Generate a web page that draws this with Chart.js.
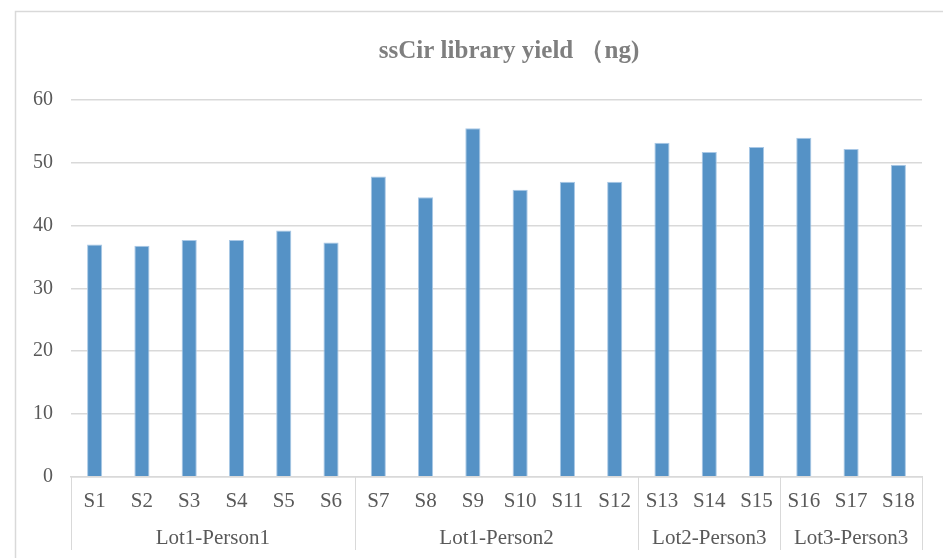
<!DOCTYPE html>
<html>
<head>
<meta charset="utf-8">
<script src="https://cdn.jsdelivr.net/npm/chart.js@4"></script>
<style>
  html, body { margin: 0; padding: 0; background: #fff; }
  #wrap { width: 943px; height: 558px; }
</style>
</head>
<body>
<div id="wrap"><canvas id="yield-chart"></canvas></div>
<script>
const samples = ["S1", "S2", "S3", "S4", "S5", "S6", "S7", "S8", "S9", "S10", "S11", "S12", "S13", "S14", "S15", "S16", "S17", "S18"];
const yieldNg = [37.0, 36.8, 37.7, 37.7, 39.2, 37.3, 47.8, 44.5, 55.5, 45.7, 47.0, 47.0, 53.2, 51.7, 52.5, 54.0, 52.2, 49.7];
const groupNames = ["Lot1-Person1", "Lot1-Person2", "Lot2-Person3", "Lot3-Person3"];
const groupSizes = [6, 6, 3, 3];
const titleText = "ssCir library yield （ng)";

const serif = "'Liberation Serif', 'Times New Roman', serif";
const lineGray = "#d9d9d9";
const textGray = "#595959";

// frame, title, group separators and group labels
const decorations = {
  id: "decorations",
  beforeDraw(chart) {
    const ctx = chart.ctx;
    ctx.save();
    ctx.strokeStyle = lineGray;
    ctx.lineWidth = 1.5;
    ctx.beginPath();
    ctx.moveTo(15.5, chart.height);
    ctx.lineTo(15.5, 11.5);
    ctx.lineTo(chart.width, 11.5);
    ctx.stroke();
    ctx.restore();
  },
  afterDraw(chart) {
    const ctx = chart.ctx;
    const x = chart.scales.x;
    const area = chart.chartArea;
    const step = (area.right - area.left) / samples.length;
    ctx.save();
    ctx.fillStyle = "#7f7f7f";
    ctx.font = "bold 25px " + serif;
    ctx.textAlign = "center";
    ctx.textBaseline = "alphabetic";
    ctx.fillText(titleText, 509, 58);

    ctx.strokeStyle = lineGray;
    ctx.lineWidth = 1;
    let start = 0;
    const edges = [0];
    groupSizes.forEach(n => { start += n; edges.push(start); });
    edges.forEach(i => {
      const px = Math.round(x.getPixelForValue(i) - step / 2) + 0.5;
      ctx.beginPath();
      ctx.moveTo(px, area.bottom);
      ctx.lineTo(px, 550);
      ctx.stroke();
    });
    ctx.fillStyle = textGray;
    ctx.font = "21px " + serif;
    ctx.textBaseline = "middle";
    groupNames.forEach((name, g) => {
      const a = x.getPixelForValue(edges[g]) - step / 2;
      const b = x.getPixelForValue(edges[g + 1]) - step / 2;
      ctx.fillText(name, (a + b) / 2, 538);
    });
    ctx.restore();
  }
};

new Chart(document.getElementById("yield-chart"), {
  type: "bar",
  data: {
    labels: samples,
    datasets: [
      {
        label: "yield",
        data: yieldNg,
        backgroundColor: "#5592c6",
        borderColor: "#a9c8e6",
        borderWidth: { top: 1, left: 1, right: 1, bottom: 0 },
        barPercentage: 0.64,
        categoryPercentage: 0.5,
      },
    ],
  },
  options: {
    responsive: true,
    maintainAspectRatio: false,
    animation: false,
    layout: {
      padding: { top: 100, left: 15, right: 21, bottom: 32 },
    },
    plugins: {
      legend: { display: false },
      title: { display: false },
      tooltip: { enabled: false },
    },
    scales: {
      x: {
        grid: { display: false, drawTicks: false },
        border: { display: true, color: lineGray, width: 1.5 },
        ticks: {
          color: textGray,
          font: { family: serif, size: 21 },
          padding: 12,
          maxRotation: 0,
          autoSkip: false,
        },
      },
      y: {
        min: 0,
        max: 60,
        ticks: {
          stepSize: 10,
          color: textGray,
          font: { family: serif, size: 20 },
          padding: 18,
        },
        grid: { color: lineGray, lineWidth: 1.5, drawTicks: false },
        border: { display: false },
      },
    },
  },
  plugins: [decorations],
});
</script>
</body>
</html>
